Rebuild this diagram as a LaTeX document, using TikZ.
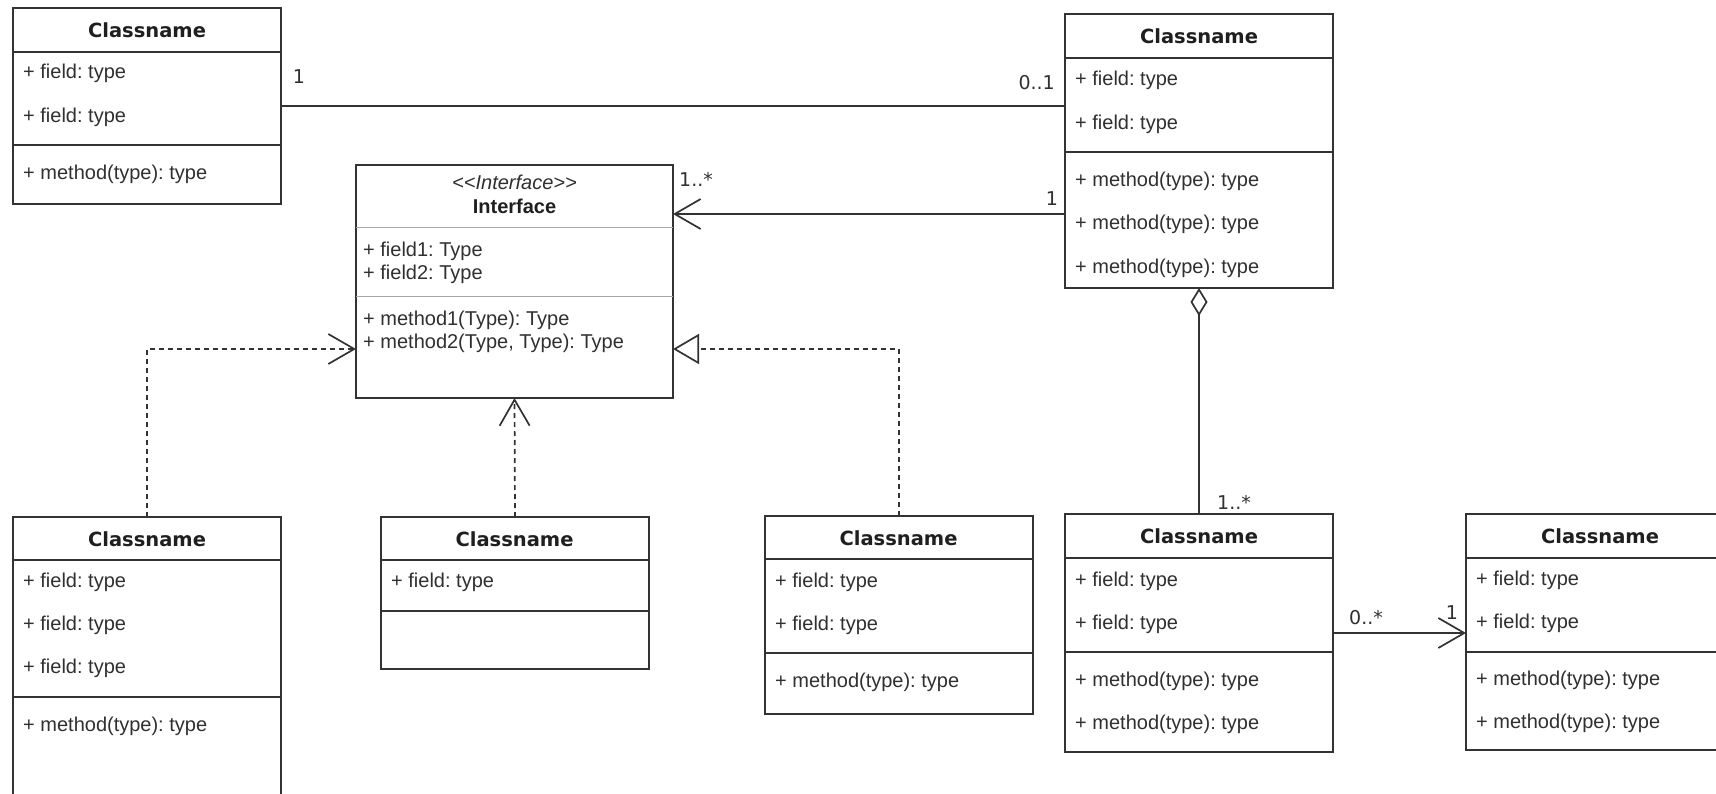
\documentclass[tikz,border=0pt]{standalone}
\usepackage{fontspec}
\setmainfont{Liberation Sans}
\newfontfamily\djv{DejaVu Sans}
\usetikzlibrary{arrows.meta}
\definecolor{linec}{HTML}{333333}
\definecolor{txtc}{HTML}{303030}
\definecolor{thinc}{HTML}{A8A8A8}
\frenchspacing
\begin{document}
\begin{tikzpicture}[x=1pt,y=-1pt,
  umlbox/.style={draw=linec, line width=1.8pt, fill=white, inner sep=0pt, outer sep=0pt, anchor=north west, minimum width=268pt},
  sepline/.style={draw=linec, line width=1.8pt},
  thinline/.style={draw=thinc, line width=1pt},
  ftxt/.style={anchor=west, inner sep=0pt, text=txtc, font=\fontsize{20}{23}\selectfont},
  ctitle/.style={inner sep=0pt, text=black!88, font=\djv\bfseries\fontsize{19.5}{22}\selectfont},
  mult/.style={inner sep=0pt, text=txtc, font=\djv\fontsize{19}{22}\selectfont},
  conn/.style={draw=linec, line width=1.7pt},
  depline/.style={conn, dash pattern=on 5pt off 4pt},
  openv/.tip={Straight Barb[length=26pt,width=30pt,line width=1.7pt]},
  opentri/.tip={Triangle[open,length=26pt,width=30pt,line width=1.7pt]},
  opendia/.tip={Diamond[open,length=28pt,width=17pt,line width=1.7pt]}
]
\useasboundingbox (0,0) rectangle (1716,794);
\fill[white] (0,0) rectangle (1716,794);
\clip (0,0) rectangle (1716,794);

% ---------- Box A (top left) ----------
\node[umlbox, minimum height=196pt] (A) at (13,8) {};
\draw[sepline] ([yshift=-44pt]A.north west) -- ([yshift=-44pt]A.north east);
\draw[sepline] ([yshift=-137pt]A.north west) -- ([yshift=-137pt]A.north east);
\node[ctitle] (At) at (147,30) {Classname};
\node[ftxt] (Af1) at (23,73) {+ field: type};
\node[ftxt] (Af2) at (23,117) {+ field: type};
\node[ftxt] (Am1) at (23,174) {+ method(type): type};

% ---------- Box B (top right) ----------
\node[umlbox, minimum height=274pt] (B) at (1065,14) {};
\draw[sepline] ([yshift=-44pt]B.north west) -- ([yshift=-44pt]B.north east);
\draw[sepline] ([yshift=-138pt]B.north west) -- ([yshift=-138pt]B.north east);
\node[ctitle] (Bt) at (1199,36) {Classname};
\node[ftxt] (Bf1) at (1075,80) {+ field: type};
\node[ftxt] (Bf2) at (1075,124) {+ field: type};
\node[ftxt] (Bm1) at (1075,181) {+ method(type): type};
\node[ftxt] (Bm2) at (1075,224) {+ method(type): type};
\node[ftxt] (Bm3) at (1075,268) {+ method(type): type};

% ---------- Interface ----------
\node[umlbox, minimum width=317pt, minimum height=233pt] (I) at (356,165) {};
\draw[thinline] ([yshift=-63pt]I.north west) -- ([yshift=-63pt]I.north east);
\draw[thinline] ([yshift=-132pt]I.north west) -- ([yshift=-132pt]I.north east);
\node[inner sep=0pt, text=txtc, font=\itshape\fontsize{20}{23}\selectfont] (Ist) at (514.5,182) {<{}<Interface>{}>};
\node[inner sep=0pt, text=black!88, font=\bfseries\fontsize{20}{23}\selectfont] (It) at (514.5,206) {Interface};
\node[ftxt] (If1) at (363,251) {+ field1: Type};
\node[ftxt] (If2) at (363,274) {+ field2: Type};
\node[ftxt] (Im1) at (363,320) {+ method1(Type): Type};
\node[ftxt] (Im2) at (363,343) {+ method2(Type, Type): Type};

% ---------- Box C (bottom left) ----------
\node[umlbox, minimum height=300pt] (C) at (13,517) {};
\draw[sepline] ([yshift=-43pt]C.north west) -- ([yshift=-43pt]C.north east);
\draw[sepline] ([yshift=-180pt]C.north west) -- ([yshift=-180pt]C.north east);
\node[ctitle] (Ct) at (147,539) {Classname};
\node[ftxt] (Cf1) at (23,582) {+ field: type};
\node[ftxt] (Cf2) at (23,625) {+ field: type};
\node[ftxt] (Cf3) at (23,668) {+ field: type};
\node[ftxt] (Cm1) at (23,726) {+ method(type): type};

% ---------- Box D ----------
\node[umlbox, minimum height=152pt] (D) at (381,517) {};
\draw[sepline] ([yshift=-43pt]D.north west) -- ([yshift=-43pt]D.north east);
\draw[sepline] ([yshift=-94pt]D.north west) -- ([yshift=-94pt]D.north east);
\node[ctitle] (Dt) at (514.5,539) {Classname};
\node[ftxt] (Df1) at (391,582) {+ field: type};

% ---------- Box E ----------
\node[umlbox, minimum height=198pt] (E) at (765,516) {};
\draw[sepline] ([yshift=-43pt]E.north west) -- ([yshift=-43pt]E.north east);
\draw[sepline] ([yshift=-137pt]E.north west) -- ([yshift=-137pt]E.north east);
\node[ctitle] (Et) at (898.5,538) {Classname};
\node[ftxt] (Ef1) at (775,582) {+ field: type};
\node[ftxt] (Ef2) at (775,625) {+ field: type};
\node[ftxt] (Em1) at (775,682) {+ method(type): type};

% ---------- Box F ----------
\node[umlbox, minimum height=238pt] (F) at (1065,514) {};
\draw[sepline] ([yshift=-44pt]F.north west) -- ([yshift=-44pt]F.north east);
\draw[sepline] ([yshift=-138pt]F.north west) -- ([yshift=-138pt]F.north east);
\node[ctitle] (Ft) at (1199,536) {Classname};
\node[ftxt] (Ff1) at (1075,581) {+ field: type};
\node[ftxt] (Ff2) at (1075,624) {+ field: type};
\node[ftxt] (Fm1) at (1075,681) {+ method(type): type};
\node[ftxt] (Fm2) at (1075,724) {+ method(type): type};

% ---------- Box G ----------
\node[umlbox, minimum height=236pt] (G) at (1466,514) {};
\draw[sepline] ([yshift=-44pt]G.north west) -- ([yshift=-44pt]G.north east);
\draw[sepline] ([yshift=-138pt]G.north west) -- ([yshift=-138pt]G.north east);
\node[ctitle] (Gt) at (1600,536) {Classname};
\node[ftxt] (Gf1) at (1476,580) {+ field: type};
\node[ftxt] (Gf2) at (1476,623) {+ field: type};
\node[ftxt] (Gm1) at (1476,680) {+ method(type): type};
\node[ftxt] (Gm2) at (1476,723) {+ method(type): type};

% ---------- connectors ----------
\coordinate (yAB) at (0,106);
\coordinate (yBI) at (0,214);
\coordinate (yDep) at (0,349);

\draw[conn] (A.east |- yAB) -- (B.west |- yAB);
\draw[conn, -openv] (B.west |- yBI) -- (I.east |- yBI);
\draw[depline, -openv] (C.north) |- (I.west |- yDep);
\draw[depline, -openv] (D.north) -- (I.south);
\draw[depline, -opentri] (E.north) |- (I.east |- yDep);
\draw[conn, opendia-] (B.south) -- (F.north);
\draw[conn, -openv] (F.east) -- (G.west |- F.east);

% ---------- multiplicities ----------
\node[mult] (mA) at (299,77) {1};
\node[mult, anchor=east] (mB1) at (1055,83) {0..1};
\node[mult, anchor=west] (mI) at (679,179) {1..*};
\node[mult] (mB2) at (1052,199) {1};
\node[mult] (mF) at (1234,502) {1..*};
\node[mult] (mF2) at (1366,618) {0..*};
\node[mult] (mG) at (1452,613) {1};
\end{tikzpicture}
\end{document}
